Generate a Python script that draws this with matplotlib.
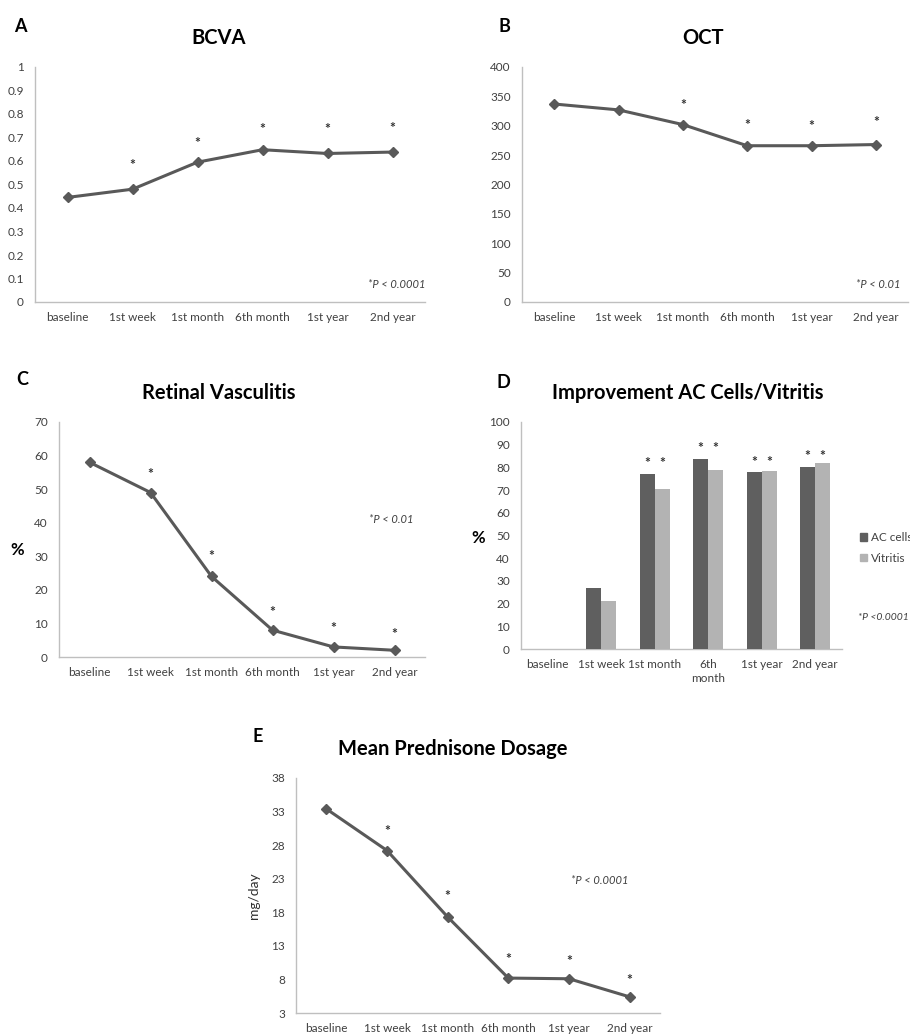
import numpy as np
import matplotlib
matplotlib.use("Agg")
from matplotlib import pyplot as plt
from matplotlib.patches import Patch

plt.rcParams['font.family'] = ['Lato', 'DejaVu Sans']

# categories shared by all panels
visits = ["baseline", "1st week", "1st month", "6th month", "1st year", "2nd year"]
visits_d = ["baseline", "1st week", "1st month", "6th\nmonth", "1st year", "2nd year"]

# A - BCVA
bcva = [0.445, 0.48, 0.595, 0.648, 0.632, 0.638]
bcva_star_idx = [1, 2, 3, 4, 5]
bcva_star_y = [0.60, 0.693, 0.756, 0.752, 0.759]

# B - OCT
oct_vals = [337, 327, 302, 266, 266, 268]
oct_star_idx = [2, 3, 4, 5]
oct_star_y = [343, 308, 306, 314]

# C - retinal vasculitis (%)
vasc = [58, 49, 24, 8, 3, 2]
vasc_star_idx = [1, 2, 3, 4, 5]
vasc_star_y = [55.8, 31.2, 14.5, 9.9, 8.1]

# D - improvement AC cells / vitritis (%)
ac_cells = [0, 27, 77.2, 83.7, 78, 80.2]
vitritis = [0, 21, 70.3, 78.9, 78.6, 82]
d_star_idx = [2, 3, 4, 5]
d_star_y = [83.9, 90.2, 84, 86.7]

# E - mean prednisone dosage (mg/day)
pred = [33.4, 27.2, 17.3, 8.2, 8.1, 5.4]
pred_star_idx = [1, 2, 3, 4, 5]
pred_star_y = [30.8, 21.1, 11.7, 11.4, 8.6]

W, H = 910, 1036
fig = plt.figure(figsize=(W / 100, H / 100), dpi=100)

LINE = '#595959'
SPINE = '#BFBFBF'
TICK = '#404040'
TITLE_FS = 14.5
LETTER_FS = 13
TICK_FS = 8.5
P_FS = 8


def px_axes(x0, y0, x1, y1):
    # pixel box (top-left origin) -> figure axes
    return fig.add_axes([x0 / W, 1 - y1 / H, (x1 - x0) / W, (y1 - y0) / H])


def style(ax, ylim, yticks, ylabels, xlabels):
    for s in ['top', 'right']:
        ax.spines[s].set_visible(False)
    for s in ['left', 'bottom']:
        ax.spines[s].set_color(SPINE)
        ax.spines[s].set_linewidth(1.0)
    ax.set_xlim(-0.5, 5.5)
    ax.set_ylim(*ylim)
    ax.set_yticks(yticks)
    ax.set_yticklabels(ylabels)
    ax.set_xticks(range(len(xlabels)))
    ax.set_xticklabels(xlabels)
    ax.tick_params(axis='both', length=0, labelsize=TICK_FS, labelcolor=TICK)
    ax.tick_params(axis='y', pad=8)
    ax.tick_params(axis='x', pad=7)


def ftext(x, y, s, **kw):
    fig.text(x / W, 1 - y / H, s, **kw)


def star(ax, x, y):
    ax.annotate('*', (x, y), xytext=(0, -3), textcoords='offset points',
                ha='center', va='center', fontsize=10, fontweight='bold', color='#303030')


def line_panel(ax, vals, star_idx, star_y):
    ax.plot(range(len(vals)), vals, color=LINE, lw=2.2, marker='D', ms=5.5,
            markerfacecolor=LINE, markeredgecolor=LINE, zorder=3)
    for i, y in zip(star_idx, star_y):
        star(ax, i, y)


# A
axA = px_axes(35, 67, 425, 302)
line_panel(axA, bcva, bcva_star_idx, bcva_star_y)
style(axA, (0, 1), np.arange(0, 1.01, 0.1),
      ['0', '0.1', '0.2', '0.3', '0.4', '0.5', '0.6', '0.7', '0.8', '0.9', '1'], visits)
ftext(426, 284, '*P < 0.0001', ha='right', va='center', fontsize=P_FS, style='italic', color=TICK)
ftext(219, 38, 'BCVA', ha='center', va='center', fontsize=TITLE_FS, fontweight='bold')
ftext(20, 27, 'A', ha='center', va='center', fontsize=LETTER_FS, fontweight='bold')

# B
axB = px_axes(522, 67, 908, 302)
line_panel(axB, oct_vals, oct_star_idx, oct_star_y)
yt = list(range(0, 401, 50))
style(axB, (0, 400), yt, [str(v) for v in yt], visits)
ftext(900, 284, '*P < 0.01', ha='right', va='center', fontsize=P_FS, style='italic', color=TICK)
ftext(703, 38, 'OCT', ha='center', va='center', fontsize=TITLE_FS, fontweight='bold')
ftext(504, 27, 'B', ha='center', va='center', fontsize=LETTER_FS, fontweight='bold')

# C
axC = px_axes(59, 422, 425, 657)
line_panel(axC, vasc, vasc_star_idx, vasc_star_y)
yt = list(range(0, 71, 10))
style(axC, (0, 70), yt, [str(v) for v in yt], visits)
axC.text(4.95, 41, '*P < 0.01', ha='center', va='center', fontsize=P_FS, style='italic', color=TICK)
ftext(17, 550, '%', ha='center', va='center', fontsize=12, fontweight='bold')
ftext(219, 393, 'Retinal Vasculitis', ha='center', va='center', fontsize=TITLE_FS, fontweight='bold')
ftext(22, 380, 'C', ha='center', va='center', fontsize=LETTER_FS, fontweight='bold')

# D
axD = px_axes(521, 422, 842, 649)
x = np.arange(len(visits_d))
bw = 0.28
axD.bar(x - bw / 2, ac_cells, bw, color='#5F5F5F', label='AC cells', zorder=3)
axD.bar(x + bw / 2, vitritis, bw, color='#B3B3B3', label='Vitritis', zorder=3)
for i, y in zip(d_star_idx, d_star_y):
    star(axD, i - bw / 2, y)
    star(axD, i + bw / 2, y)
yt = list(range(0, 101, 10))
style(axD, (0, 100), yt, [str(v) for v in yt], visits_d)
axD.tick_params(axis='x', pad=7)
for lbl in axD.get_xticklabels():
    lbl.set_linespacing(1.35)
handles = [Patch(color='#5F5F5F', label='AC cells'), Patch(color='#B3B3B3', label='Vitritis')]
fig.legend(handles=handles, loc='center left', bbox_to_anchor=(860 / W, 1 - 548 / H),
           frameon=False, fontsize=8.5, handlelength=0.6, handleheight=0.6,
           handletextpad=0.3, labelspacing=0.8, borderpad=0, borderaxespad=0,
           labelcolor=TICK)
ftext(909, 617, '*P <0.0001', ha='right', va='center', fontsize=7.5, style='italic', color=TICK)
ftext(478, 538, '%', ha='center', va='center', fontsize=12, fontweight='bold')
ftext(688, 393, 'Improvement AC Cells/Vitritis', ha='center', va='center', fontsize=TITLE_FS, fontweight='bold')
ftext(503, 382, 'D', ha='center', va='center', fontsize=LETTER_FS, fontweight='bold')

# E
axE = px_axes(296, 778, 660, 1013)
line_panel(axE, pred, pred_star_idx, pred_star_y)
yt = list(range(3, 39, 5))
style(axE, (3, 38), yt, [str(v) for v in yt], visits)
axE.text(4.5, 22.7, '*P < 0.0001', ha='center', va='center', fontsize=P_FS, style='italic', color=TICK)
axE.set_ylabel('mg/day', fontsize=10, color='#303030', labelpad=8)
ftext(453, 749, 'Mean Prednisone Dosage', ha='center', va='center', fontsize=TITLE_FS, fontweight='bold')
ftext(258, 737, 'E', ha='center', va='center', fontsize=LETTER_FS, fontweight='bold')

fig.savefig('out.png', dpi=100, facecolor='white')
